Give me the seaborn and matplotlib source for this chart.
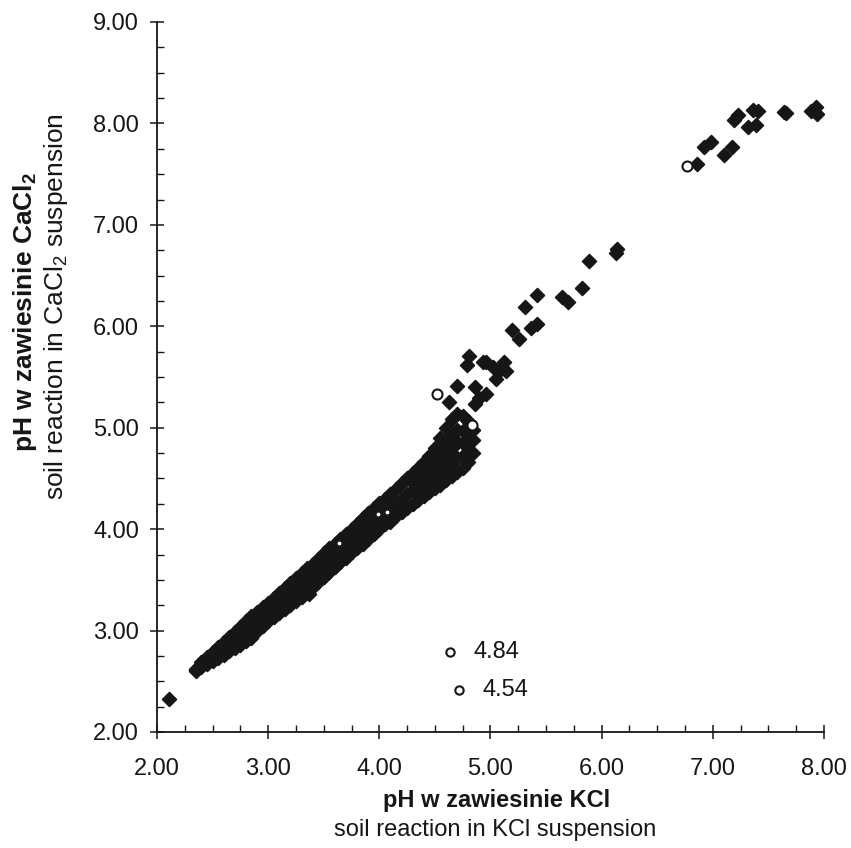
"""
pH in KCl suspension vs pH in CaCl2 suspension (soil samples).
"""

import matplotlib
matplotlib.use("Agg")
import matplotlib.pyplot as plt
from matplotlib.ticker import MultipleLocator, FormatStrFormatter
import pandas as pd
import seaborn as sns

# dense band of samples: x = pH KCl, lower / middle / upper edge of pH CaCl2
band_x = [2.35, 2.40, 2.45, 2.50, 2.55, 2.60, 2.65, 2.70, 2.75, 2.80,
          2.85, 2.90, 2.95, 3.00, 3.05, 3.10, 3.15, 3.20, 3.25, 3.30,
          3.35, 3.40, 3.45, 3.50, 3.55, 3.60, 3.65, 3.70, 3.75, 3.80,
          3.85, 3.90, 3.95, 4.00, 4.05, 4.10, 4.15, 4.20, 4.25, 4.30,
          4.35, 4.40, 4.45, 4.50, 4.55, 4.60, 4.65, 4.70, 4.75, 4.80]
band_low = [2.60, 2.64, 2.67, 2.70, 2.73, 2.76, 2.80, 2.83, 2.86, 2.90,
            2.95, 3.00, 3.05, 3.09, 3.13, 3.17, 3.21, 3.25, 3.29, 3.33,
            3.38, 3.43, 3.48, 3.53, 3.58, 3.63, 3.68, 3.73, 3.77, 3.81,
            3.85, 3.90, 3.95, 4.00, 4.05, 4.09, 4.13, 4.17, 4.21, 4.25,
            4.29, 4.33, 4.37, 4.41, 4.44, 4.48, 4.52, 4.56, 4.60, 4.66]
band_mid = [2.61, 2.66, 2.70, 2.74, 2.78, 2.82, 2.86, 2.90, 2.94, 2.98,
            3.03, 3.08, 3.13, 3.17, 3.22, 3.26, 3.30, 3.35, 3.39, 3.44,
            3.49, 3.53, 3.58, 3.63, 3.68, 3.73, 3.78, 3.83, 3.88, 3.92,
            3.97, 4.02, 4.07, 4.12, 4.17, 4.21, 4.26, 4.30, 4.35, 4.39,
            4.43, 4.48, 4.53, 4.59, 4.66, 4.73, 4.80, 4.86, 4.85, 4.85]
band_up = [2.62, 2.69, 2.74, 2.79, 2.84, 2.89, 2.94, 2.99, 3.04, 3.09,
           3.14, 3.18, 3.23, 3.27, 3.32, 3.37, 3.42, 3.47, 3.52, 3.57,
           3.62, 3.66, 3.71, 3.76, 3.81, 3.85, 3.90, 3.95, 4.00, 4.05,
           4.11, 4.16, 4.21, 4.26, 4.30, 4.35, 4.40, 4.45, 4.50, 4.55,
           4.60, 4.66, 4.72, 4.80, 4.90, 5.00, 5.09, 5.14, 5.12, 5.07]

# extra samples filling the wide end of the band
fill_x = [2.85, 3.37, 3.70, 4.10, 4.30, 4.35, 4.35, 4.40, 4.40, 4.45,
          4.45, 4.50, 4.50, 4.55, 4.55, 4.60, 4.60, 4.65, 4.65, 4.70,
          4.70, 4.75, 4.75, 4.80, 4.80, 4.84, 4.84, 4.84]
fill_y = [2.93, 3.36, 3.72, 4.07, 4.45, 4.37, 4.50, 4.41, 4.55, 4.46,
          4.61, 4.51, 4.68, 4.56, 4.76, 4.60, 4.85, 4.66, 4.93, 4.70,
          4.98, 4.72, 4.97, 4.76, 4.95, 4.75, 4.88, 4.98]

# isolated samples
out_x = [2.11, 4.63, 4.70, 4.79, 4.81, 4.86, 4.86, 4.90, 4.96, 4.93,
         4.96, 5.02, 5.05, 5.08, 5.12, 5.14, 5.19, 5.26, 5.31, 5.36,
         5.42, 5.42, 5.64, 5.70, 5.82, 5.89, 6.13, 6.14,
         6.86, 6.92, 6.98, 7.10, 7.17, 7.19, 7.23, 7.32, 7.39, 7.36,
         7.41, 7.64, 7.66, 7.88, 7.93, 7.94]
out_y = [2.33, 5.25, 5.41, 5.62, 5.71, 5.40, 5.23, 5.29, 5.33, 5.65,
         5.65, 5.60, 5.48, 5.56, 5.65, 5.56, 5.96, 5.87, 6.19, 5.98,
         6.02, 6.31, 6.29, 6.24, 6.38, 6.64, 6.72, 6.76,
         7.60, 7.77, 7.82, 7.69, 7.77, 8.03, 8.08, 7.96, 7.98, 8.13,
         8.12, 8.11, 8.10, 8.12, 8.16, 8.09]

# open circles
ring_x = [4.52, 4.83, 6.77]
ring_y = [5.33, 5.03, 7.58]
small_ring_x = [3.64, 3.99, 4.07]
small_ring_y = [3.86, 4.15, 4.17]

# key circles with their values
key_x = [4.635, 4.72]
key_y = [2.79, 2.41]
key_labels = ["4.84", "4.54"]
key_text_x = [4.85, 4.93]

sns.set_style("ticks")
plt.rcParams["font.family"] = ["Liberation Sans", "DejaVu Sans"]
plt.rcParams["mathtext.fontset"] = "custom"
plt.rcParams["mathtext.rm"] = "Liberation Sans"
plt.rcParams["mathtext.bf"] = "Liberation Sans:bold"
plt.rcParams["mathtext.it"] = "Liberation Sans:italic"

ink = "#161616"
W, H = 851, 848

fig = plt.figure(figsize=(W / 100, H / 100), dpi=100)
ax = fig.add_axes([157 / W, 1 - 732 / H, (824 - 157) / W, (732 - 22) / H])

diamonds = pd.DataFrame({
    "kcl": band_x + band_x + band_x + fill_x + out_x,
    "cacl2": band_low + band_mid + band_up + fill_y + out_y,
})
sns.scatterplot(data=diamonds, x="kcl", y="cacl2", marker="D", s=50,
                color=ink, edgecolor=ink, linewidth=1.2, ax=ax, zorder=3)

sns.scatterplot(x=ring_x, y=ring_y, marker="o", s=52, color="white",
                edgecolor=ink, linewidth=1.5, ax=ax, zorder=4)
sns.scatterplot(x=small_ring_x, y=small_ring_y, marker="o", s=14, color="white",
                edgecolor=ink, linewidth=1.0, ax=ax, zorder=4)
sns.scatterplot(x=key_x, y=key_y, marker="o", s=36, color="white",
                edgecolor=ink, linewidth=1.5, ax=ax, zorder=4)
for tx, ty, lab in zip(key_text_x, key_y, key_labels):
    ax.text(tx, ty, lab, fontsize=17, color=ink, va="center", ha="left")

ax.set_xlim(2, 8)
ax.set_ylim(2, 9)
ax.xaxis.set_major_locator(MultipleLocator(1))
ax.xaxis.set_minor_locator(MultipleLocator(0.25))
ax.yaxis.set_major_locator(MultipleLocator(1))
ax.yaxis.set_minor_locator(MultipleLocator(0.25))
ax.xaxis.set_major_formatter(FormatStrFormatter("%.2f"))
ax.yaxis.set_major_formatter(FormatStrFormatter("%.2f"))

sns.despine(ax=ax)
for side in ["left", "bottom"]:
    ax.spines[side].set_color(ink)
    ax.spines[side].set_linewidth(1.3)

ax.tick_params(which="major", direction="inout", length=10, width=1.1,
               color=ink, labelsize=17, labelcolor=ink)
ax.tick_params(axis="x", which="major", pad=14)
ax.tick_params(axis="y", which="major", pad=8)
ax.tick_params(which="minor", direction="in", length=5, width=1.0, color=ink)
ax.set_xlabel("")
ax.set_ylabel("")
ax.grid(False)

fig.text(497 / W, 1 - 800 / H, "pH w zawiesinie KCl", fontsize=17,
         fontweight="bold", color=ink, ha="center", va="center")
fig.text(495 / W, 1 - 830 / H, "soil reaction in KCl suspension", fontsize=17,
         color=ink, ha="center", va="center")
fig.text(25 / W, 1 - 452 / H, r"pH w zawiesinie CaCl$_\mathbf{2}$", fontsize=19,
         fontweight="bold", color=ink, rotation=90, ha="center", va="bottom")
fig.text(56 / W, 1 - 500 / H, r"soil reaction in CaCl$_2$ suspension", fontsize=19,
         color=ink, rotation=90, ha="center", va="bottom")

fig.savefig("out.png", dpi=100, facecolor="white")
